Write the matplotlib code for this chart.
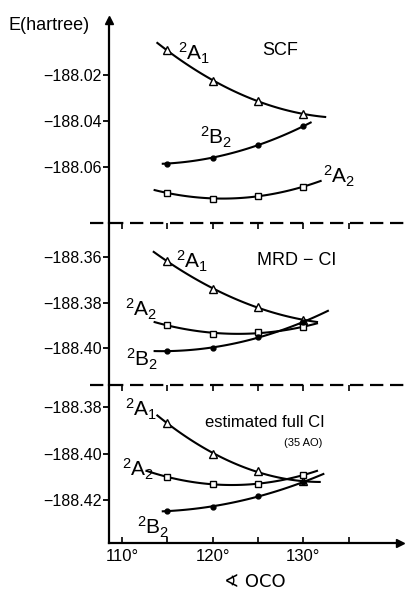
import numpy as np
import matplotlib
matplotlib.use("Agg")
import matplotlib.pyplot as plt
from matplotlib.lines import Line2D

plt.rcParams['font.family'] = ['Liberation Sans', 'DejaVu Sans']
plt.rcParams['mathtext.fontset'] = 'custom'
plt.rcParams['mathtext.rm'] = 'Liberation Sans'
plt.rcParams['mathtext.it'] = 'Liberation Sans'

# OCO angle (degrees) at which energies were computed
angles = [115, 120, 125, 130]

# SCF energies (hartree)
scf_A1 = [-188.0096, -188.0226, -188.0313, -188.0370]
scf_B2 = [-188.0583, -188.0557, -188.0504, -188.0422]
scf_A2 = [-188.0709, -188.0735, -188.0722, -188.0683]

# MRD-CI energies
mrd_A1 = [-188.3618, -188.3740, -188.3820, -188.3877]
mrd_A2 = [-188.3899, -188.3938, -188.3930, -188.3908]
mrd_B2 = [-188.4013, -188.4000, -188.3952, -188.3886]

# estimated full CI energies
fci_A1 = [-188.3869, -188.4000, -188.4077, -188.4120]
fci_A2 = [-188.4101, -188.4131, -188.4131, -188.4092]
fci_B2 = [-188.4247, -188.4229, -188.4183, -188.4123]

panels = [
    dict(title="SCF", ylim=(-188.0839, -187.9965), ticks=[-188.06, -188.04, -188.02],
         series=[(scf_A1, '^', 'white', (113.9, 132.4), r"$^2$A$_1$", (118.0, -188.011)),
                 (scf_B2, 'o', 'black', (114.5, 130.8), r"$^2$B$_2$", (120.4, -188.047)),
                 (scf_A2, 's', 'white', (113.6, 131.9), r"$^2$A$_2$", (134.0, -188.064))],
         tpos=(127.4, -188.0095)),
    dict(title="MRD − CI", ylim=(-188.4163, -188.3450), ticks=[-188.40, -188.38, -188.36],
         series=[(mrd_A1, '^', 'white', (113.5, 131.5), r"$^2$A$_1$", (117.7, -188.362)),
                 (mrd_A2, 's', 'white', (113.6, 131.5), r"$^2$A$_2$", (112.1, -188.383)),
                 (mrd_B2, 'o', 'black', (113.6, 132.7), r"$^2$B$_2$", (112.2, -188.405))],
         tpos=(129.3, -188.3615)),
    dict(title="estimated full CI", ylim=(-188.4385, -188.3705), ticks=[-188.42, -188.40, -188.38],
         series=[(fci_A1, '^', 'white', (113.9, 131.8), r"$^2$A$_1$", (112.1, -188.381)),
                 (fci_A2, 's', 'white', (112.7, 131.5), r"$^2$A$_2$", (111.8, -188.407)),
                 (fci_B2, 'o', 'black', (114.5, 132.2), r"$^2$B$_2$", (113.4, -188.432))],
         tpos=(125.8, -188.3865)),
]

fig = plt.figure(figsize=(4.07, 5.93), dpi=100)
left, width = 109 / 407, 291 / 407
boxes = [(20, 223), (223, 385), (385, 543)]

axes = []
for i, (p, (ytop, ybot)) in enumerate(zip(panels, boxes)):
    ax = fig.add_axes([left, (593 - ybot) / 593, width, (ybot - ytop) / 593])
    axes.append(ax)
    ax.set_xlim(108.57, 140.65)
    ax.set_ylim(*p['ylim'])
    for s in ['top', 'right']:
        ax.spines[s].set_visible(False)
    ax.spines['left'].set_linewidth(1.6)
    ax.set_yticks(p['ticks'])
    ax.set_yticklabels(["−%.2f" % abs(t) for t in p['ticks']], fontsize=11.5)
    ax.tick_params(axis='y', direction='out', length=4, width=1.3, pad=1)
    ax.set_xticks([110, 115, 120, 125, 130, 135])
    if i < 2:
        ax.spines['bottom'].set_visible(False)
        ax.tick_params(axis='x', bottom=False, labelbottom=False)
    if i > 0:
        ax.tick_params(axis='x', top=True, direction='in', length=4, width=1.2)
    ax.patch.set_visible(False)

    for vals, mk, fc, (x0, x1), lab, lpos in p['series']:
        c = np.polyfit(angles, vals, 2)
        xx = np.linspace(x0, x1, 100)
        ax.plot(xx, np.polyval(c, xx), color='black', lw=1.5, clip_on=False)
        ms = {'^': 6, 's': 4.5, 'o': 3.5}[mk]
        ax.plot(angles, vals, mk, ms=ms, mfc=fc, mec='black', mew=1.0, clip_on=False)
        ax.text(*lpos, lab, fontsize=15, ha='center', va='center')
    fs = 12 if i == 2 else 13
    ax.text(*p['tpos'], p['title'], fontsize=fs, ha='center', va='center')

axes[2].text(130.0, -188.3955, "(35 AO)", fontsize=8, ha='center', va='center')

# bottom axis
ax = axes[2]
ax.spines['bottom'].set_linewidth(1.6)
ax.set_xticklabels(["110°", "", "120°", "", "130°", ""], fontsize=12)
ax.tick_params(axis='x', bottom=True, direction='in', length=4, width=1.2, pad=4)
ax.set_xlabel("∢ OCO", fontsize=13, family=['DejaVu Sans'], labelpad=7)
ax.plot(1, 0, '>k', ms=6, transform=ax.transAxes, clip_on=False)
axes[0].plot(0, 1, '^k', ms=6, transform=axes[0].transAxes, clip_on=False)

# axis title
fig.text(8 / 407, 1 - 25 / 593, "E(hartree)", fontsize=13, va='center')

# dashed separators between panels
for yp in [223, 385]:
    fig.add_artist(Line2D([90 / 407, 1.0], [1 - yp / 593] * 2, transform=fig.transFigure,
                          color='black', lw=1.6, ls=(0, (6, 3))))

fig.savefig("out.png", dpi=100)
